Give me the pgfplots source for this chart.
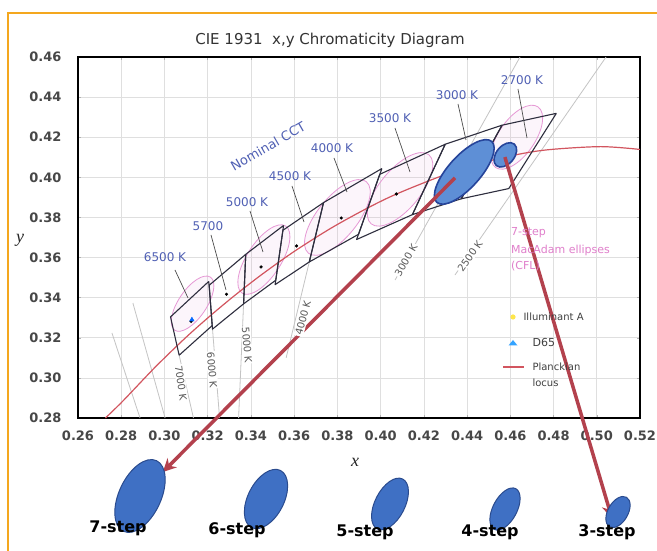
\documentclass[border=0pt]{standalone}
\usepackage{pgfplots}
\pgfplotsset{compat=1.18}
\usepackage{fontspec}
\setmainfont{DejaVu Sans}
\newfontfamily\serif{Liberation Serif}
\usetikzlibrary{arrows.meta}
\definecolor{frameor}{HTML}{F4A71E}
\definecolor{locus}{HTML}{D2555F}
\definecolor{arrowred}{HTML}{B3414D}
\definecolor{quad}{HTML}{2E2E3E}
\definecolor{pinkc}{HTML}{E07FCB}
\definecolor{ellfill}{HTML}{5E8FD6}
\definecolor{elledge}{HTML}{26449A}
\definecolor{botfill}{HTML}{3F70C4}
\definecolor{botedge}{HTML}{2A4B8E}
\definecolor{lblue}{HTML}{5060B4}
\definecolor{isogray}{HTML}{C4C4C4}
\begin{document}
\begin{tikzpicture}
\useasboundingbox (0,0) rectangle (657pt,551pt);
\fill[white] (0,0) rectangle (657pt,551pt);
\begin{axis}[
  at={(78pt,133pt)}, anchor=south west,
  scale only axis, width=562pt, height=361pt,
  xmin=0.26, xmax=0.52, ymin=0.28, ymax=0.46,
  xtick={0.26,0.28,0.30,0.32,0.34,0.36,0.38,0.40,0.42,0.44,0.46,0.48,0.50,0.52},
  ytick={0.28,0.30,0.32,0.34,0.36,0.38,0.40,0.42,0.44,0.46},
  /pgf/number format/fixed, /pgf/number format/fixed zerofill,
  /pgf/number format/precision=2, /pgf/number format/assume math mode=true,
  grid=major, grid style={gray!25, line width=0.6pt},
  axis line style={black, line width=2pt},
  tick style={gray!60, line width=0.5pt}, major tick length=3pt, tick align=inside,
  ticklabel style={font=\fontsize{13}{13}\selectfont\bfseries, text=black!72},
  xticklabel style={yshift=-9pt},
  yticklabel style={xshift=-13pt},
  clip=false,
]
% pink 7-step MacAdam ellipses (CFL)
\draw[pinkc!80, line width=0.8pt, fill=pinkc, fill opacity=0.07] (axis cs:0.313,0.337) ellipse [x radius=32pt, y radius=14pt, rotate=56];
\draw[pinkc!80, line width=0.8pt, fill=pinkc, fill opacity=0.07] (axis cs:0.346,0.359) ellipse [x radius=40pt, y radius=17pt, rotate=57];
\draw[pinkc!80, line width=0.8pt, fill=pinkc, fill opacity=0.07] (axis cs:0.380,0.380) ellipse [x radius=46pt, y radius=20pt, rotate=51];
\draw[pinkc!80, line width=0.8pt, fill=pinkc, fill opacity=0.07] (axis cs:0.409,0.394) ellipse [x radius=45pt, y radius=20pt, rotate=50];
\draw[pinkc!80, line width=0.8pt, fill=pinkc, fill opacity=0.07] (axis cs:0.463,0.420) ellipse [x radius=37pt, y radius=18pt, rotate=55];
% isotemperature lines
\addplot[isogray, line width=0.8pt] coordinates {(0.2757,0.3224) (0.2887,0.2800)};
\addplot[isogray, line width=0.8pt] coordinates {(0.2854,0.3373) (0.3003,0.2800)};
\addplot[isogray, line width=0.8pt] coordinates {(0.3068,0.3113) (0.3134,0.2800)};
\addplot[isogray, line width=0.8pt] coordinates {(0.3221,0.3261) (0.3255,0.2800)};
\addplot[isogray, line width=0.8pt] coordinates {(0.3366,0.3369) (0.3343,0.2800)};
\addplot[isogray, line width=0.8pt] coordinates {(0.3670,0.3578) (0.3563,0.3100)};
\addplot[isogray, line width=0.8pt] coordinates {(0.4067,0.3488) (0.4645,0.4600)};
\addplot[isogray, line width=0.8pt] coordinates {(0.4344,0.3513) (0.5043,0.4600)};
% Planckian locus
\addplot[locus, line width=1.2pt, smooth] coordinates {
(0.2727,0.2800) (0.2807,0.2884) (0.2952,0.3048) (0.3064,0.3166) (0.3135,0.3237)
(0.3221,0.3318) (0.3325,0.3411) (0.3451,0.3516) (0.3608,0.3636) (0.3805,0.3768)
(0.4053,0.3907) (0.4369,0.4041) (0.4599,0.4106) (0.4770,0.4137) (0.5018,0.4153) (0.5200,0.4139)};
% ANSI quadrangles
\addplot[quad, line width=1.1pt, line join=round] coordinates {(0.3205,0.3481) (0.3028,0.3304) (0.3068,0.3113) (0.3221,0.3261) (0.3205,0.3481)};
\addplot[quad, line width=1.1pt, line join=round] coordinates {(0.3376,0.3616) (0.3207,0.3462) (0.3222,0.3243) (0.3366,0.3369) (0.3376,0.3616)};
\addplot[quad, line width=1.1pt, line join=round] coordinates {(0.3551,0.3760) (0.3376,0.3616) (0.3366,0.3369) (0.3515,0.3487) (0.3551,0.3760)};
\addplot[quad, line width=1.1pt, line join=round] coordinates {(0.3736,0.3874) (0.3548,0.3736) (0.3512,0.3465) (0.3670,0.3578) (0.3736,0.3874)};
\addplot[quad, line width=1.1pt, line join=round] coordinates {(0.4006,0.4044) (0.3736,0.3874) (0.3670,0.3578) (0.3898,0.3716) (0.4006,0.4044)};
\addplot[quad, line width=1.1pt, line join=round] coordinates {(0.4299,0.4165) (0.3996,0.4015) (0.3889,0.3690) (0.4147,0.3814) (0.4299,0.4165)};
\addplot[quad, line width=1.1pt, line join=round] coordinates {(0.4562,0.4260) (0.4299,0.4165) (0.4147,0.3814) (0.4373,0.3893) (0.4562,0.4260)};
\addplot[quad, line width=1.1pt, line join=round] coordinates {(0.4813,0.4319) (0.4562,0.4260) (0.4373,0.3893) (0.4593,0.3944) (0.4813,0.4319)};
% quadrangle centres
\addplot[only marks, mark=*, mark size=1.4pt, black] coordinates {
(0.3123,0.3282) (0.3287,0.3417) (0.3447,0.3553) (0.3611,0.3658) (0.3818,0.3797) (0.4073,0.3917)};
% blue ellipses 7-step 3000 K and 3-step 2700 K
\draw[elledge, line width=1.6pt, fill=ellfill] (axis cs:0.4387,0.4027) ellipse [x radius=41pt, y radius=16pt, rotate=48];
\draw[elledge, line width=1.6pt, fill=ellfill] (axis cs:0.4577,0.4112) ellipse [x radius=14pt, y radius=9pt, rotate=50];
% D65
\addplot[only marks, mark=triangle*, mark size=2.6pt, color=blue!60!cyan] coordinates {(0.3127,0.3290)};
% arrows
\addplot[arrowred, line width=3.5pt, -{Stealth[length=13pt,width=13pt]}] coordinates {(0.4344,0.3997) (0.2993,0.2531)};
\addplot[arrowred, line width=3.5pt, -{Stealth[length=13pt,width=13pt]}] coordinates {(0.4575,0.4101) (0.5070,0.2301)};
\end{axis}
\begin{scope}[x=1pt,y=1pt]
% frame
\draw[frameor, line width=2.5pt] (8,0) -- (8,538) -- (657,538);
% title and axis labels
\node[text=black!80, font=\fontsize{15}{15}\selectfont] at (330,511) {CIE 1931\ \ x,y Chromaticity Diagram};
\node[text=black!85, font=\serif\itshape\fontsize{18}{18}\selectfont] at (355,89) {x};
\node[text=black!85, font=\serif\itshape\fontsize{18}{18}\selectfont] at (20,311) {y};
% blue CCT labels and leaders
\begin{scope}[lblue, font=\fontsize{12}{12}\selectfont]
\node at (165,294) {6500 K};
\node at (208,325) {5700};
\node at (247,349) {5000 K};
\node at (290,375) {4500 K};
\node at (332,403) {4000 K};
\node at (390,433) {3500 K};
\node at (457,456) {3000 K};
\node at (522,471) {2700 K};
\node[rotate=30, font=\fontsize{13}{13}\selectfont] at (268,405) {Nominal CCT};
\end{scope}
\begin{scope}[black!70, line width=0.7pt]
\draw (175,281) -- (188,253);
\draw (211,316) -- (226,261);
\draw (250,340) -- (263,299);
\draw (292,365) -- (304,329);
\draw (334,393) -- (347,359);
\draw (395,423) -- (410,379);
\draw (458,447) -- (466,411);
\draw (518,462) -- (527,413);
\end{scope}
% isotemperature labels
\begin{scope}[text=black!65, font=\fontsize{10}{10}\selectfont]
\node[rotate=-82, fill=white, inner sep=1pt] at (181,168) {7000 K};
\node[rotate=-85, fill=white, inner sep=1pt] at (212,181) {6000 K};
\node[rotate=-85, fill=white, inner sep=1pt] at (247,206) {5000 K};
\node[rotate=75, fill=white, inner sep=1pt] at (303,233) {4000 K};
\node[rotate=60, fill=white, inner sep=1pt] at (406,291) {3000 K};
\node[rotate=55, fill=white, inner sep=1pt] at (470,295) {2500 K};
\end{scope}
% pink text
\begin{scope}[text=pinkc, font=\fontsize{11}{12}\selectfont, inner sep=1pt]
\node[anchor=west] at (510,318) {7-step};
\node[anchor=west] at (510,301) {MacAdam ellipses};
\node[anchor=west] at (510,285) {(CFL)};
\end{scope}
% legend
\fill[yellow!80!orange!70] (513,234) circle (2.6pt);
\node[anchor=west, text=black!75, font=\fontsize{10}{10}\selectfont] at (520,234) {Illuminant A};
\fill[blue!45!cyan!80] (508.5,205.5) -- (517.5,205.5) -- (513,211) -- cycle;
\node[anchor=west, text=black!75, font=\fontsize{11}{11}\selectfont] at (529,208) {D65};
\draw[locus, line width=1.4pt] (503,184) -- (524,184);
\node[anchor=west, text=black!75, font=\fontsize{10}{10}\selectfont] at (529,184) {Planckian};
\node[anchor=west, text=black!75, font=\fontsize{10}{10}\selectfont] at (529,168) {locus};
% bottom ellipses
\draw[botedge, line width=1pt, fill=botfill] (140,55) ellipse [x radius=39pt, y radius=21pt, rotate=65];
\draw[botedge, line width=1pt, fill=botfill] (266,52) ellipse [x radius=32pt, y radius=18pt, rotate=63];
\draw[botedge, line width=1pt, fill=botfill] (390,47) ellipse [x radius=28pt, y radius=15pt, rotate=63];
\draw[botedge, line width=1pt, fill=botfill] (505,42) ellipse [x radius=23pt, y radius=12pt, rotate=62];
\draw[botedge, line width=1pt, fill=botfill] (618,39) ellipse [x radius=17pt, y radius=10pt, rotate=60];
\begin{scope}[font=\bfseries\fontsize{16}{16}\selectfont, text=black]
\node at (118,23) {7-step};
\node at (237,21) {6-step};
\node at (365,19) {5-step};
\node at (490,19) {4-step};
\node at (607,19) {3-step};
\end{scope}
\end{scope}
\end{tikzpicture}
\end{document}
